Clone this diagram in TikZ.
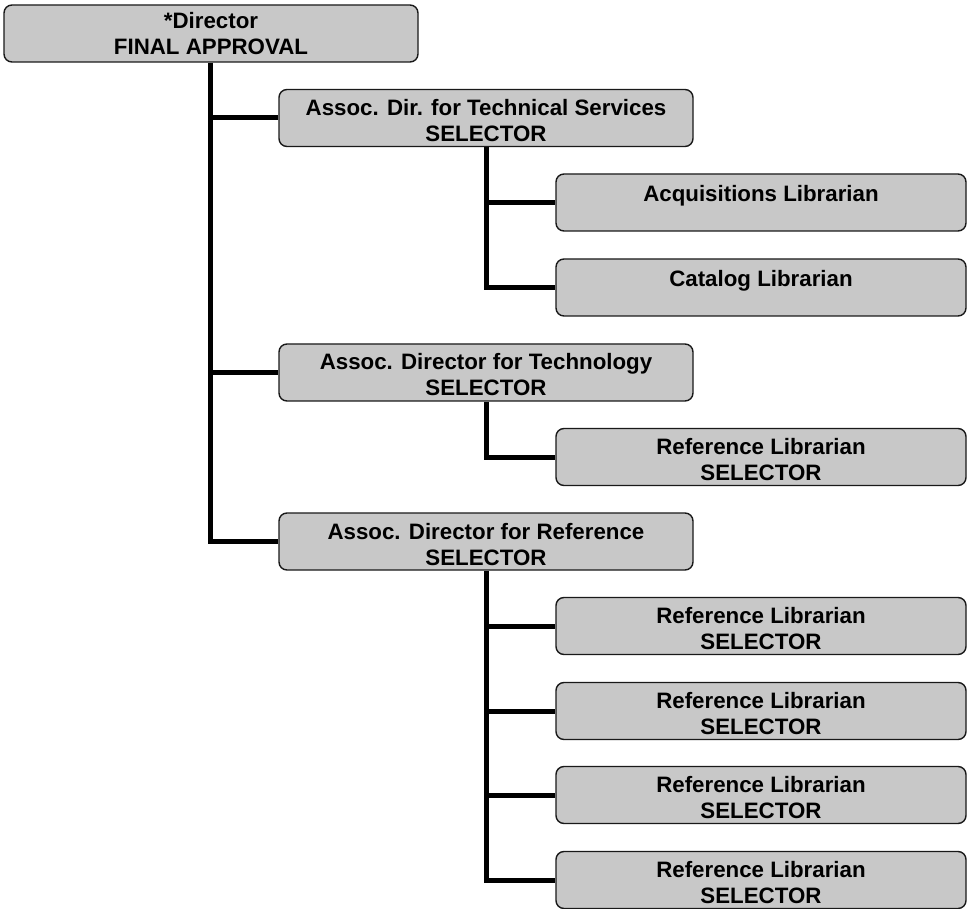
\documentclass[tikz,border=0pt]{standalone}
\usepackage{fontspec}
\setmainfont{Liberation Sans}
\usetikzlibrary{backgrounds}
\definecolor{boxfill}{RGB}{200,200,200}
\definecolor{boxline}{RGB}{25,25,25}
% box label: [first baseline below top edge], width, first line, second line
\newcommand{\orgtext}[4][26pt]{\parbox[c][57pt][t]{#2}{\centering\rule{0pt}{#1}#3\par #4\par}}
\tikzset{
  orgbox/.style={draw=boxline, line width=1.4pt, fill=boxfill, rounded corners=8pt,
    inner sep=0pt, font=\bfseries\fontsize{22.3}{26}\selectfont},
  link/.style={line width=5pt, line join=miter, draw=black}
}
\begin{document}
\begin{tikzpicture}[x=1pt, y=-1pt]
\useasboundingbox (0,0) rectangle (970,909);

% top level
\node[orgbox] (dir) at (211,33.5) {\orgtext[23.5pt]{414pt}{*Director}{FINAL APPROVAL}};

% associate directors
\node[orgbox] (ts)   at (486,118)   {\orgtext{414pt}{Assoc. Dir. for Technical Services}{SELECTOR}};
\node[orgbox] (tech) at (486,372.5) {\orgtext{414pt}{Assoc. Director for Technology}{SELECTOR}};
\node[orgbox] (ref)  at (486,541.5) {\orgtext{414pt}{Assoc. Director for Reference}{SELECTOR}};

% librarians
\node[orgbox] (acq) at (761,202.5) {\orgtext[27.5pt]{410pt}{Acquisitions Librarian}{}};
\node[orgbox] (cat) at (761,287.5) {\orgtext[27.5pt]{410pt}{Catalog Librarian}{}};
\node[orgbox] (rl0) at (761,457)   {\orgtext{410pt}{Reference Librarian}{SELECTOR}};
\node[orgbox] (rl1) at (761,626)   {\orgtext{410pt}{Reference Librarian}{SELECTOR}};
\node[orgbox] (rl2) at (761,711)   {\orgtext{410pt}{Reference Librarian}{SELECTOR}};
\node[orgbox] (rl3) at (761,795)   {\orgtext{410pt}{Reference Librarian}{SELECTOR}};
\node[orgbox] (rl4) at (761,880)   {\orgtext{410pt}{Reference Librarian}{SELECTOR}};

\begin{scope}[on background layer]
  % director trunk
  \draw[link] (dir.south -| 210,0) |- (ref.west);
  \draw[link] (ts.west -| 210,0) -- (ts.west);
  \draw[link] (tech.west -| 210,0) -- (tech.west);
  % technical services branch
  \draw[link] (ts.south) |- (cat.west);
  \draw[link] (ts.south |- acq.west) -- (acq.west);
  % technology branch
  \draw[link] (tech.south) |- (rl0.west);
  % reference branch
  \draw[link] (ref.south) |- (rl4.west);
  \draw[link] (ref.south |- rl1.west) -- (rl1.west);
  \draw[link] (ref.south |- rl2.west) -- (rl2.west);
  \draw[link] (ref.south |- rl3.west) -- (rl3.west);
\end{scope}
\end{tikzpicture}
\end{document}
